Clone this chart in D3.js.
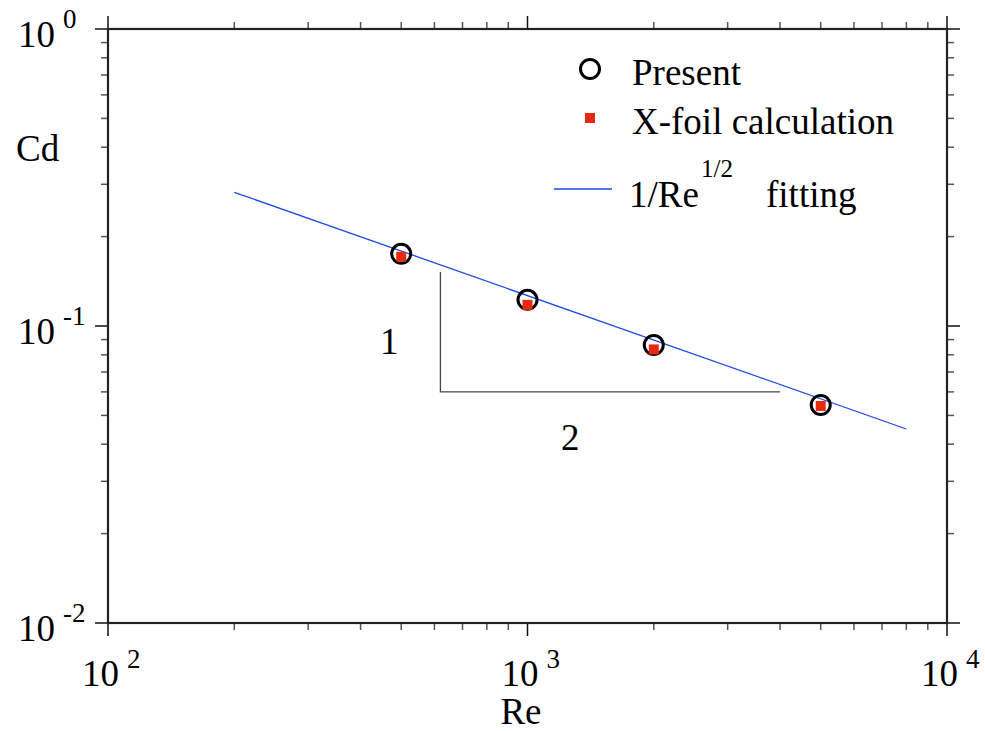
<!DOCTYPE html>
<html>
<head>
<meta charset="utf-8">
<script src="https://cdn.jsdelivr.net/npm/d3@7/dist/d3.min.js"></script>
<style>
  html, body { margin: 0; padding: 0; background: #fff; }
  svg { display: block; }
</style>
</head>
<body>
<svg id="chart" width="985" height="731" font-family="'Liberation Serif', 'Times New Roman', Times, serif"></svg>
<script>
// Drag coefficient vs Reynolds number (log-log)
var reValues = [500, 1000, 2000, 5000];
var cdPresent = [0.175, 0.1225, 0.0863, 0.0542];
var cdXfoil = [0.171, 0.1178, 0.0834, 0.0538];
// 1/Re^(1/2) fitting line endpoints
var fitRe = [200, 8000];
var fitCd = [0.282, 0.045];
// slope triangle (1 : 2)
var slopeRe = [620, 620, 4000];
var slopeCd = [0.152, 0.060, 0.060];
var xExponents = [2, 3, 4];
var yExponents = [0, -1, -2];
var legendLabels = ['Present', 'X-foil calculation'];

(function () {
  var svg = d3.select('#chart');
  var pLeft = 108, pRight = 947, pTop = 29, pBottom = 623;

  var x = d3.scaleLog().domain([100, 10000]).range([pLeft, pRight]);
  var y = d3.scaleLog().domain([0.01, 1]).range([pBottom, pTop]);

  var FONT = 37, SUP = 27;

  // ticks: majors 13px, minors 7px, pointing outward on all four sides
  function minorTicks(lo, hi) {
    var out = [];
    for (var e = lo; e < hi; e++) {
      for (var m = 2; m <= 9; m++) out.push(m * Math.pow(10, e));
    }
    return out;
  }
  var xMajor = xExponents.map(function (e) { return Math.pow(10, e); });
  var yMajor = yExponents.map(function (e) { return Math.pow(10, e); });
  var xMinor = minorTicks(2, 4);
  var yMinor = minorTicks(-2, 0);

  var gT = svg.append('g');
  function tickSetX(vals, len, color, width) {
    vals.forEach(function (v) {
      var px = x(v);
      gT.append('line').attr('x1', px).attr('x2', px).attr('y1', pBottom).attr('y2', pBottom + len)
        .attr('stroke', color).attr('stroke-width', width);
      gT.append('line').attr('x1', px).attr('x2', px).attr('y1', pTop).attr('y2', pTop - len)
        .attr('stroke', color).attr('stroke-width', width);
    });
  }
  function tickSetY(vals, len, color, width) {
    vals.forEach(function (v) {
      var py = y(v);
      gT.append('line').attr('x1', pLeft).attr('x2', pLeft - len).attr('y1', py).attr('y2', py)
        .attr('stroke', color).attr('stroke-width', width);
      gT.append('line').attr('x1', pRight).attr('x2', pRight + len).attr('y1', py).attr('y2', py)
        .attr('stroke', color).attr('stroke-width', width);
    });
  }
  tickSetX(xMinor, 7, '#555', 1.5);
  tickSetY(yMinor, 7, '#555', 1.5);
  tickSetX(xMajor, 13, '#111', 1.5);
  tickSetY(yMajor, 13, '#111', 1.5);

  // frame
  svg.append('rect').attr('x', pLeft).attr('y', pTop)
    .attr('width', pRight - pLeft).attr('height', pBottom - pTop)
    .attr('fill', 'none').attr('stroke', '#222').attr('stroke-width', 2.2);

  // tick labels
  xExponents.forEach(function (e) {
    var t = svg.append('text').attr('x', x(Math.pow(10, e)) - 26).attr('y', 686)
      .attr('font-size', FONT).attr('fill', '#000');
    t.append('tspan').text('10');
    t.append('tspan').attr('dx', 8).attr('dy', -18).attr('font-size', SUP).text(e);
  });
  yExponents.forEach(function (e) {
    var t = svg.append('text').attr('x', 18).attr('y', y(Math.pow(10, e)) + 18)
      .attr('font-size', FONT).attr('fill', '#000');
    t.append('tspan').text('10');
    t.append('tspan').attr('dx', 8).attr('dy', -19).attr('font-size', SUP).text(e);
  });

  // axis titles
  svg.append('text').attr('x', 16).attr('y', 161).attr('font-size', FONT).text('Cd');
  svg.append('text').attr('x', 521).attr('y', 724).attr('text-anchor', 'middle')
    .attr('font-size', FONT).text('Re');

  // fitting line
  var line = d3.line().x(function (d) { return x(d[0]); }).y(function (d) { return y(d[1]); });
  svg.append('path').datum(d3.zip(fitRe, fitCd)).attr('d', line)
    .attr('fill', 'none').attr('stroke', '#1c48e3').attr('stroke-width', 1.3);

  // slope triangle
  svg.append('path').datum(d3.zip(slopeRe, slopeCd)).attr('d', line)
    .attr('fill', 'none').attr('stroke', '#444').attr('stroke-width', 1.3);
  svg.append('text').attr('x', 380).attr('y', 354).attr('font-size', FONT).text('1');
  svg.append('text').attr('x', 561).attr('y', 450).attr('font-size', FONT).text('2');

  // data: present (open circles) and X-foil (red squares)
  var pts = d3.zip(reValues, cdPresent, cdXfoil);
  svg.append('g').selectAll('circle').data(pts).join('circle')
    .attr('cx', function (d) { return x(d[0]); })
    .attr('cy', function (d) { return y(d[1]); })
    .attr('r', 9.5).attr('fill', 'none').attr('stroke', '#000').attr('stroke-width', 3);
  svg.append('g').selectAll('rect').data(pts).join('rect')
    .attr('x', function (d) { return x(d[0]) - 5; })
    .attr('y', function (d) { return y(d[2]) - 5; })
    .attr('width', 10).attr('height', 10).attr('fill', '#e8290e');

  // legend
  var lg = svg.append('g');
  lg.append('circle').attr('cx', 590).attr('cy', 69).attr('r', 9.5)
    .attr('fill', 'none').attr('stroke', '#000').attr('stroke-width', 3);
  lg.append('text').attr('x', 632).attr('y', 85).attr('font-size', FONT).text(legendLabels[0]);
  lg.append('rect').attr('x', 585).attr('y', 113).attr('width', 10).attr('height', 10).attr('fill', '#e8290e');
  lg.append('text').attr('x', 632).attr('y', 134).attr('font-size', FONT).text(legendLabels[1]);
  lg.append('line').attr('x1', 554).attr('x2', 612).attr('y1', 189).attr('y2', 189)
    .attr('stroke', '#1c48e3').attr('stroke-width', 1.3);
  lg.append('text').attr('x', 629).attr('y', 207).attr('font-size', FONT).text('1/Re');
  lg.append('text').attr('x', 701).attr('y', 177).attr('font-size', 25).text('1/2');
  lg.append('text').attr('x', 766).attr('y', 207).attr('font-size', FONT).text('fitting');
})();
</script>
</body>
</html>
